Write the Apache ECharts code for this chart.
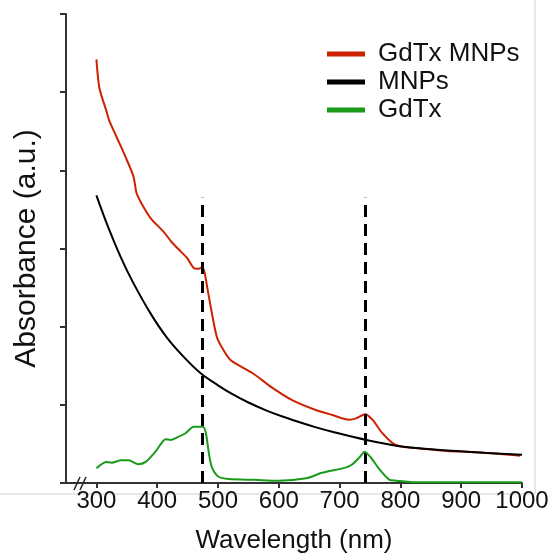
<!DOCTYPE html>
<html>
<head>
<meta charset="utf-8">
<script src="https://cdn.jsdelivr.net/npm/echarts@6/dist/echarts.min.js"></script>
<style>html,body{margin:0;padding:0;background:#fff}#c{width:552px;height:560px}</style>
</head>
<body>
<div id="c"></div>
<script>
// ---- data ----
var xTicks = [300, 400, 500, 600, 700, 800, 900, 1000];
var yTicks = [0, 1, 2, 3, 4, 5, 6];

var gdtxMnpsX = [300, 305, 316, 321, 333, 348, 361, 366, 374, 389, 411, 424, 439, 449, 460, 468, 474, 478, 483, 490, 498, 506, 521, 556, 589, 622, 662, 688, 716, 728, 742, 754, 770, 787, 799, 820, 876, 931, 997];
var gdtxMnpsY = [5.42, 5.05, 4.77, 4.64, 4.43, 4.17, 3.92, 3.71, 3.58, 3.39, 3.21, 3.08, 2.96, 2.88, 2.75, 2.74, 2.76, 2.69, 2.47, 2.17, 1.87, 1.74, 1.57, 1.41, 1.22, 1.06, 0.93, 0.87, 0.81, 0.83, 0.88, 0.81, 0.64, 0.51, 0.47, 0.45, 0.41, 0.39, 0.35];

var mnpsX = [300, 320, 340, 360, 389, 415, 444, 472, 500, 523, 550, 579, 606, 633, 660, 688, 744, 799, 860, 930, 1000];
var mnpsY = [3.68, 3.26, 2.89, 2.57, 2.17, 1.87, 1.61, 1.40, 1.25, 1.14, 1.03, 0.93, 0.85, 0.78, 0.715, 0.655, 0.55, 0.47, 0.425, 0.39, 0.36];

var gdtxX = [300, 316, 325, 341, 353, 369, 381, 397, 414, 422, 432, 447, 460, 475, 480, 485, 490, 501, 518, 560, 600, 645, 671, 711, 721, 733, 741, 752, 766, 782, 793, 820, 900, 1000];
var gdtxY = [0.19, 0.27, 0.26, 0.29, 0.29, 0.24, 0.27, 0.40, 0.56, 0.55, 0.58, 0.64, 0.72, 0.72, 0.64, 0.38, 0.20, 0.08, 0.05, 0.04, 0.03, 0.06, 0.13, 0.20, 0.24, 0.33, 0.40, 0.32, 0.17, 0.04, 0.03, 0.01, 0.01, 0.01];

var guideX = [474, 742];
var guideTop = [3.65, 3.65];

var seriesNames = ['GdTx MNPs', 'MNPs', 'GdTx'];
var seriesColors = ['#cc2200', '#000000', '#1a9a1a'];
var seriesSmooth = [0.25, 0.35, 0.25];

function zip(xs, ys) { return xs.map(function (x, i) { return [x, ys[i]]; }); }

var font = '"Liberation Sans", Arial, sans-serif';
var chart = echarts.init(document.getElementById('c'), null, { renderer: 'canvas' });

var lineSeries = [zip(gdtxMnpsX, gdtxMnpsY), zip(mnpsX, mnpsY), zip(gdtxX, gdtxY)].map(function (d, i) {
  return {
    name: seriesNames[i], type: 'line', data: d, showSymbol: false, symbol: 'none',
    smooth: seriesSmooth[i],
    lineStyle: { color: seriesColors[i], width: 2 }, itemStyle: { color: seriesColors[i] },
    z: 3 + i, animation: false
  };
});

lineSeries.push({
  name: 'guides', type: 'line', data: [], silent: true, animation: false,
  markLine: {
    symbol: 'none', silent: true, animation: false, label: { show: false },
    lineStyle: { color: '#000', width: 3, type: [12, 7] },
    data: guideX.map(function (x, i) { return [{ coord: [x, 0] }, { coord: [x, guideTop[i]] }]; })
  },
  z: 2
});

chart.setOption({
  backgroundColor: '#fff',
  animation: false,
  grid: { left: 66, right: 30, top: 14, bottom: 77 },
  legend: {
    data: seriesNames, orient: 'vertical', left: 322, top: 36,
    icon: 'rect', itemWidth: 38, itemHeight: 5, itemGap: 2,
    textStyle: { fontFamily: font, fontSize: 26, color: '#111', padding: [0, 0, 0, 8] },
    selectedMode: false
  },
  xAxis: {
    type: 'value', min: 250, max: 1000,
    splitLine: { show: false },
    axisLine: { lineStyle: { color: '#333', width: 2 } },
    axisTick: { show: true, inside: false, length: 5, customValues: xTicks, lineStyle: { color: '#333', width: 2 } },
    axisLabel: { customValues: xTicks, formatter: function (v) { return String(v); }, fontFamily: font, fontSize: 24, color: '#111', margin: 6 },
    name: 'Wavelength (nm)', nameLocation: 'middle', nameGap: 45,
    nameTextStyle: { fontFamily: font, fontSize: 26, color: '#111' }
  },
  yAxis: {
    type: 'value', min: 0, max: 6, interval: 1,
    splitLine: { show: false },
    axisLine: { show: true, lineStyle: { color: '#333', width: 2 } },
    axisTick: { show: true, inside: false, length: 6, lineStyle: { color: '#333', width: 2 } },
    axisLabel: { show: false },
    name: 'Absorbance (a.u.)', nameLocation: 'middle', nameGap: 24, nameRotate: 90,
    nameTextStyle: { fontFamily: font, fontSize: 30, color: '#111' }
  },
  graphic: [
    { type: 'line', shape: { x1: 535, y1: 0, x2: 535, y2: 494 }, style: { stroke: '#cfcfcf', lineWidth: 1 } },
    { type: 'line', shape: { x1: 0, y1: 494, x2: 535, y2: 494 }, style: { stroke: '#cfcfcf', lineWidth: 1 } },
    { type: 'line', shape: { x1: 74, y1: 490, x2: 80, y2: 477 }, style: { stroke: '#222', lineWidth: 1.5 }, z: 100 },
    { type: 'line', shape: { x1: 80, y1: 490, x2: 86, y2: 477 }, style: { stroke: '#222', lineWidth: 1.5 }, z: 100 }
  ],
  series: lineSeries
});
</script>
</body>
</html>
